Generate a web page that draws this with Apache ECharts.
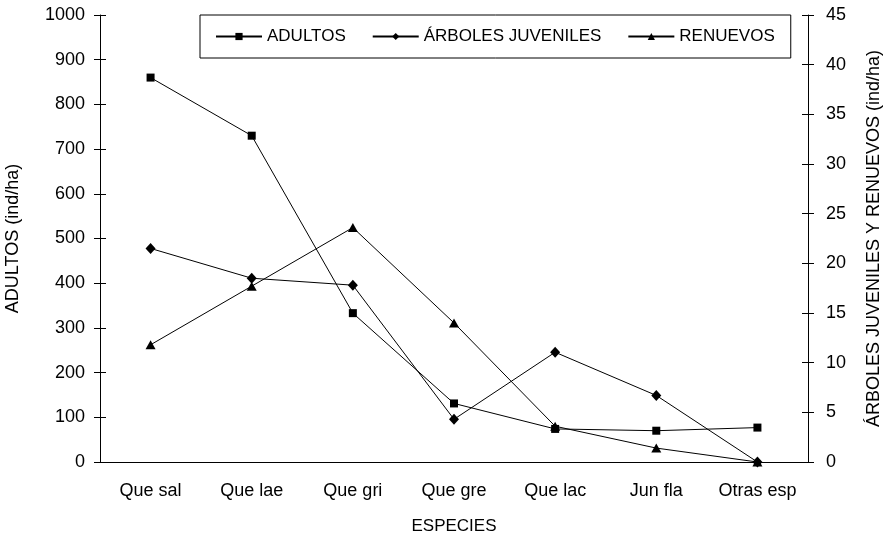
<!DOCTYPE html>
<html><head><meta charset="utf-8">
<script src="https://cdn.jsdelivr.net/npm/echarts@6/dist/echarts.min.js"></script>
<style>html,body{margin:0;padding:0;background:#fff}#c{width:885px;height:536px}</style>
</head><body><div id="c"></div>
<script>
var categories = ['Que sal','Que lae','Que gri','Que gre','Que lac','Jun fla','Otras esp'];
var adultos = [860, 730, 333, 131, 74, 70, 77];
var juveniles = [21.5, 18.5, 17.8, 4.3, 11.05, 6.7, 0];
var renuevos = [11.8, 17.7, 23.6, 14.0, 3.6, 1.4, 0];
var leftTicks = {min:0, max:1000, interval:100};
var rightTicks = {min:0, max:45, interval:5};

var F = 'Liberation Sans, Arial, sans-serif';
var black = '#000';
var chart = echarts.init(document.getElementById('c'));
function yax(pos, t, inside, show, name){
  return {
    type:'value', position:pos, min:t.min, max:t.max, interval:t.interval, offset:0,
    name: show ? name : '', nameLocation:'middle', nameRotate:90,
    nameGap: pos==='left' ? 78 : 57,
    nameTextStyle:{color:black, fontSize:18, fontFamily:F},
    axisLine:{show:show, lineStyle:{color:black, width:1}},
    axisTick:{show:true, inside:inside, length:6, lineStyle:{color:black, width:1}},
    axisLabel:{show:show, color:black, fontSize:18, fontFamily:F, margin: pos==='left' ? 15 : 18,
      formatter:function(v){return String(v);}},
    splitLine:{show:false}
  };
}
chart.setOption({
  animation:false,
  backgroundColor:'#fff',
  grid:{left:100, right:77, top:15, bottom:74, containLabel:false, outerBoundsMode:'none'},
  legend:{
    left:200, top:15, padding:[13,16,13,15], itemGap:26, itemWidth:46, itemHeight:9,
    borderColor:black, borderWidth:1, backgroundColor:'#fff',
    textStyle:{color:black, fontSize:17, fontFamily:F},
    data:['ADULTOS','ÁRBOLES JUVENILES','RENUEVOS']
  },
  xAxis:[{
    type:'category', data:categories, boundaryGap:true,
    name:'ESPECIES', nameLocation:'middle', nameGap:56,
    nameTextStyle:{color:black, fontSize:17, fontFamily:F},
    axisLine:{lineStyle:{color:black, width:1}},
    axisTick:{length:6, interval:0, lineStyle:{color:black, width:1}},
    axisLabel:{color:black, fontSize:18, fontFamily:F, margin:20, interval:0}
  },{
    type:'category', data:categories, boundaryGap:true, position:'bottom', offset:0,
    axisLine:{show:false}, axisTick:{inside:true, interval:0, length:6, lineStyle:{color:black}},
    axisLabel:{show:false}
  }],
  yAxis:[
    yax('left', leftTicks, false, true, 'ADULTOS (ind/ha)'),
    yax('right', rightTicks, false, true, 'ÁRBOLES JUVENILES Y RENUEVOS (ind/ha)'),
    yax('left', leftTicks, true, false, ''),
    yax('right', rightTicks, true, false, '')
  ],
  series:[
    {name:'ADULTOS', type:'line', data:adultos, yAxisIndex:0, symbol:'rect', symbolSize:8,
     lineStyle:{color:black, width:1}, itemStyle:{color:black}, z:3},
    {name:'ÁRBOLES JUVENILES', type:'line', data:juveniles, yAxisIndex:1, symbol:'diamond', symbolSize:[10,11],
     lineStyle:{color:black, width:1}, itemStyle:{color:black}, z:3},
    {name:'RENUEVOS', type:'line', data:renuevos, yAxisIndex:1, symbol:'triangle', symbolSize:[10,9],
     lineStyle:{color:black, width:1}, itemStyle:{color:black}, z:3}
  ]
});
</script></body></html>
